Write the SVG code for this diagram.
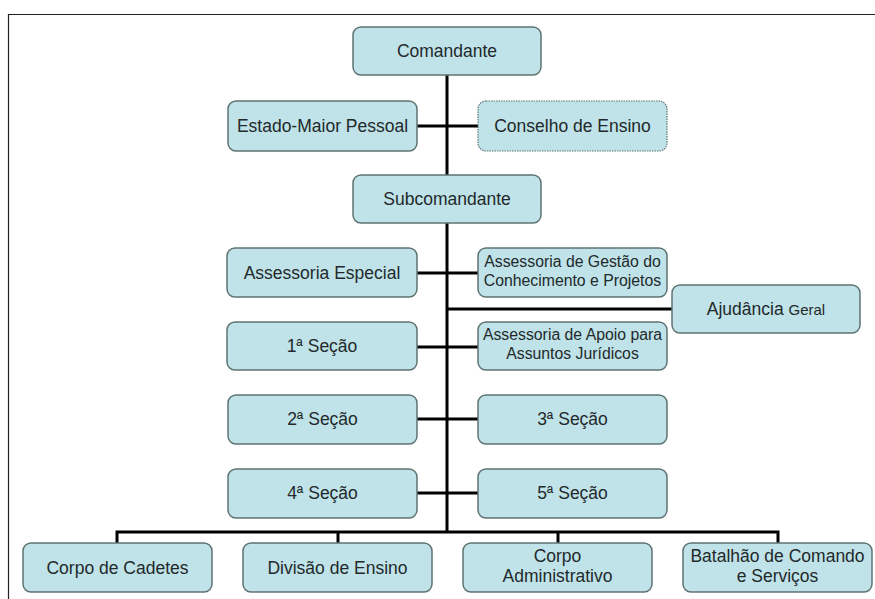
<svg xmlns="http://www.w3.org/2000/svg" width="875" height="599" viewBox="0 0 875 599">
<style>
.box{fill:#bfe3e8;stroke:#5f7373;stroke-width:1.5}
.dot{fill:#bfe3e8;stroke:#5f7373;stroke-width:1.2;stroke-dasharray:1.5 1}
text{font-family:"Liberation Sans",Arial,sans-serif;fill:#23292b;text-anchor:middle}
.t{font-size:17.5px}
.s{font-size:15.8px}
.c{fill:none;stroke:#000;stroke-width:3}
</style>
<rect width="875" height="599" fill="#fff"/>
<path d="M8.5 599 V14.5 H875" fill="none" stroke="#222" stroke-width="1.2"/>
<g id="connectors" class="c">
<path d="M447 75 V532"/>
<path d="M417 126 H478"/>
<path d="M417 273 H478"/>
<path d="M447 309 H672"/>
<path d="M417 347 H478"/>
<path d="M417 419 H478"/>
<path d="M417 493 H478"/>
<path d="M117 543 V532 H778 V543"/>
<path d="M338 532 V543"/>
<path d="M558 532 V543"/>
</g>
<g id="comandante"><rect class="box" x="353" y="27" width="188" height="48" rx="8"/><text class="t" x="447" y="57">Comandante</text></g>
<g id="estado-maior"><rect class="box" x="228" y="101" width="189" height="50" rx="8"/><text class="t" x="322.5" y="132">Estado-Maior Pessoal</text></g>
<g id="conselho"><rect class="dot" x="478" y="101" width="189" height="50" rx="8"/><text class="t" x="572.5" y="132">Conselho de Ensino</text></g>
<g id="subcomandante"><rect class="box" x="353" y="175" width="188" height="48" rx="8"/><text class="t" x="447" y="205">Subcomandante</text></g>
<g id="assessoria-especial"><rect class="box" x="227" y="248" width="190" height="49" rx="8"/><text class="t" x="322" y="279">Assessoria Especial</text></g>
<g id="assessoria-gestao"><rect class="box" x="478" y="248" width="189" height="49" rx="8"/><text class="s" x="572.5" y="267">Assessoria de Gestão do</text><text class="s" x="572.5" y="286">Conhecimento e Projetos</text></g>
<g id="ajudancia"><rect class="box" x="672" y="285" width="188" height="48" rx="8"/><text class="t" x="766" y="315">Ajudância <tspan font-size="15px">Geral</tspan></text></g>
<g id="secao1"><rect class="box" x="227" y="322" width="190" height="48" rx="8"/><text class="t" x="322" y="352">1ª Seção</text></g>
<g id="assessoria-apoio"><rect class="box" x="478" y="322" width="189" height="48" rx="8"/><text class="s" x="572.5" y="340">Assessoria de Apoio para</text><text class="s" x="572.5" y="359">Assuntos Jurídicos</text></g>
<g id="secao2"><rect class="box" x="228" y="395" width="189" height="49" rx="8"/><text class="t" x="322.5" y="425">2ª Seção</text></g>
<g id="secao3"><rect class="box" x="478" y="395" width="189" height="49" rx="8"/><text class="t" x="572.5" y="425">3ª Seção</text></g>
<g id="secao4"><rect class="box" x="228" y="469" width="189" height="49" rx="8"/><text class="t" x="322.5" y="499">4ª Seção</text></g>
<g id="secao5"><rect class="box" x="478" y="469" width="189" height="49" rx="8"/><text class="t" x="572.5" y="499">5ª Seção</text></g>
<g id="corpo-cadetes"><rect class="box" x="23" y="543" width="189" height="49" rx="8"/><text class="t" x="117.5" y="574">Corpo de Cadetes</text></g>
<g id="divisao-ensino"><rect class="box" x="243" y="543" width="189" height="49" rx="8"/><text class="t" x="337.5" y="574">Divisão de Ensino</text></g>
<g id="corpo-administrativo"><rect class="box" x="463" y="543" width="189" height="49" rx="8"/><text class="t" x="557.5" y="562">Corpo</text><text class="t" x="557.5" y="582">Administrativo</text></g>
<g id="batalhao"><rect class="box" x="683" y="543" width="189" height="49" rx="8"/><text class="t" x="777.5" y="562">Batalhão de Comando</text><text class="t" x="777.5" y="582">e Serviços</text></g>
</svg>
